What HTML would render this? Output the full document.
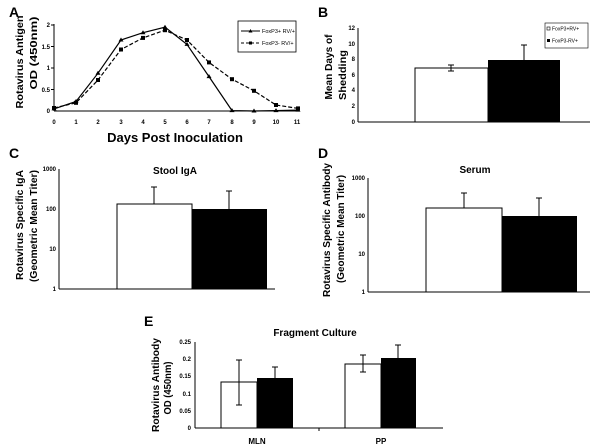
<!DOCTYPE html>
<html><head><meta charset="utf-8"><style>
html,body{margin:0;padding:0;background:#fff}
svg{display:block;font-family:"Liberation Sans",Arial,sans-serif}
.t{font-size:6px;font-weight:bold}
.L{font-size:14px;font-weight:bold}
.yl{font-size:10.5px;font-weight:bold}
</style></head><body>
<svg width="600" height="447" viewBox="0 0 600 447">
<!-- Panel A -->
<text class="L" x="9" y="17">A</text>
<g stroke="#000" stroke-width="1" fill="none">
<line x1="54" y1="24" x2="54" y2="111"/>
<line x1="54" y1="111" x2="299" y2="111"/>
</g>
<g class="t" text-anchor="end">
<text x="50" y="27">2</text><text x="50" y="49">1.5</text><text x="50" y="70">1</text><text x="50" y="92">0.5</text><text x="50" y="113">0</text>
</g>
<g stroke="#000" stroke-width="1">
<line x1="51" y1="25" x2="54" y2="25"/><line x1="51" y1="46.5" x2="54" y2="46.5"/><line x1="51" y1="68" x2="54" y2="68"/><line x1="51" y1="89.5" x2="54" y2="89.5"/>
</g>
<g class="t" text-anchor="middle">
<text x="54" y="124">0</text><text x="76" y="124">1</text><text x="98" y="124">2</text><text x="121" y="124">3</text><text x="143" y="124">4</text><text x="165" y="124">5</text><text x="187" y="124">6</text><text x="209" y="124">7</text><text x="232" y="124">8</text><text x="254" y="124">9</text><text x="276" y="124">10</text><text x="297" y="124">11</text>
</g>
<polyline fill="none" stroke="#000" stroke-width="1.2" points="54,108.9 76,101.5 98,73.2 121,40 143,32.7 165,27.2 187,44.4 209,76.6 232,110.6 254,111 276,110.6 298,110.1"/>
<polyline fill="none" stroke="#000" stroke-width="1.2" stroke-dasharray="4,2" points="54,108 76,102.8 98,80 121,49.5 143,37.9 165,30.2 187,40 209,62.4 232,79.2 254,90.8 276,105 298,108.4"/>
<g fill="#000">
<path d="M54,106.4l2.5,4h-5z M76,99l2.5,4h-5z M98,70.7l2.5,4h-5z M121,37.5l2.5,4h-5z M143,30.2l2.5,4h-5z M165,24.7l2.5,4h-5z M187,41.9l2.5,4h-5z M209,74.1l2.5,4h-5z M232,108.1l2.5,4h-5z M254,108.5l2.5,4h-5z M276,108.1l2.5,4h-5z M298,107.6l2.5,4h-5z"/>
<rect x="52" y="106" width="4" height="4"/><rect x="74" y="100.8" width="4" height="4"/><rect x="96" y="78" width="4" height="4"/><rect x="119" y="47.5" width="4" height="4"/><rect x="141" y="35.9" width="4" height="4"/><rect x="163" y="28.2" width="4" height="4"/><rect x="185" y="38" width="4" height="4"/><rect x="207" y="60.4" width="4" height="4"/><rect x="230" y="77.2" width="4" height="4"/><rect x="252" y="88.8" width="4" height="4"/><rect x="274" y="103" width="4" height="4"/><rect x="296" y="106.4" width="4" height="4"/>
</g>
<rect x="238" y="21" width="58" height="31" fill="#fff" stroke="#000" stroke-width="0.8"/>
<line x1="241" y1="31" x2="260" y2="31" stroke="#000"/><path d="M250.5,29l2,3.5h-4z" fill="#000"/>
<text x="262" y="33" font-size="5.5">FoxP3+ RV/+</text>
<line x1="241" y1="43" x2="260" y2="43" stroke="#000" stroke-dasharray="3,2"/><rect x="249" y="41.5" width="3" height="3" fill="#000"/>
<text x="262" y="45" font-size="5.5">FoxP3- RV/+</text>
<text class="yl" transform="translate(23,62) rotate(-90)" text-anchor="middle" textLength="93" lengthAdjust="spacingAndGlyphs">Rotavirus Antigen</text>
<text class="yl" transform="translate(37,53) rotate(-90)" text-anchor="middle" textLength="73" lengthAdjust="spacingAndGlyphs">OD (450nm)</text>
<text x="175" y="142" text-anchor="middle" font-size="13" font-weight="bold">Days Post Inoculation</text>

<!-- Panel B -->
<text class="L" x="318" y="17">B</text>
<line x1="358" y1="28" x2="358" y2="122" stroke="#000"/>
<line x1="358" y1="122" x2="590" y2="122" stroke="#000"/>
<g class="t" text-anchor="end">
<text x="355" y="30">12</text><text x="355" y="46">10</text><text x="355" y="61">8</text><text x="355" y="77">6</text><text x="355" y="92">4</text><text x="355" y="108">2</text><text x="355" y="124">0</text>
</g>
<rect x="415" y="68" width="73" height="54" fill="#fff" stroke="#000"/>
<rect x="488" y="60" width="72" height="62" fill="#000"/>
<g stroke="#000"><line x1="451" y1="65" x2="451" y2="71"/><line x1="448" y1="65" x2="454" y2="65"/><line x1="448" y1="71" x2="454" y2="71"/>
<line x1="524" y1="45" x2="524" y2="60"/><line x1="521" y1="45" x2="527" y2="45"/></g>
<rect x="545" y="23" width="43" height="25" fill="#fff" stroke="#000" stroke-width="0.6"/>
<rect x="547" y="27" width="3" height="3" fill="#fff" stroke="#000" stroke-width="0.6"/><text x="552" y="30.5" font-size="5">FoxP3+RV+</text>
<rect x="547" y="39" width="3" height="3" fill="#000"/><text x="552" y="42.5" font-size="5">FoxP3-RV+</text>
<text class="yl" transform="translate(332,67) rotate(-90)" text-anchor="middle" textLength="65" lengthAdjust="spacingAndGlyphs">Mean Days of</text>
<text class="yl" transform="translate(346,75) rotate(-90)" text-anchor="middle" textLength="50" lengthAdjust="spacingAndGlyphs">Shedding</text>

<!-- Panel C -->
<text class="L" x="9" y="158">C</text>
<line x1="59" y1="169" x2="59" y2="289" stroke="#000"/>
<line x1="59" y1="289" x2="275" y2="289" stroke="#000"/>
<g class="t" text-anchor="end"><text x="56" y="171">1000</text><text x="56" y="211">100</text><text x="56" y="251">10</text><text x="56" y="291">1</text></g>
<rect x="117" y="204" width="75" height="85" fill="#fff" stroke="#000"/>
<rect x="192" y="209" width="75" height="80" fill="#000"/>
<g stroke="#000"><line x1="154" y1="187" x2="154" y2="204"/><line x1="151" y1="187" x2="157" y2="187"/><line x1="229" y1="191" x2="229" y2="209"/><line x1="226" y1="191" x2="232" y2="191"/></g>
<text x="175" y="174" text-anchor="middle" font-size="10" font-weight="bold">Stool IgA</text>
<text class="yl" transform="translate(23,225) rotate(-90)" text-anchor="middle" textLength="110" lengthAdjust="spacingAndGlyphs">Rotavirus Specific IgA</text>
<text class="yl" transform="translate(37,226) rotate(-90)" text-anchor="middle" textLength="112" lengthAdjust="spacingAndGlyphs">(Geometric Mean Titer)</text>

<!-- Panel D -->
<text class="L" x="318" y="158">D</text>
<line x1="368" y1="178" x2="368" y2="292" stroke="#000"/>
<line x1="368" y1="292" x2="590" y2="292" stroke="#000"/>
<g class="t" text-anchor="end"><text x="365" y="180">1000</text><text x="365" y="218">100</text><text x="365" y="256">10</text><text x="365" y="294">1</text></g>
<rect x="426" y="208" width="76" height="84" fill="#fff" stroke="#000"/>
<rect x="502" y="216" width="75" height="76" fill="#000"/>
<g stroke="#000"><line x1="464" y1="193" x2="464" y2="208"/><line x1="461" y1="193" x2="467" y2="193"/><line x1="539" y1="198" x2="539" y2="216"/><line x1="536" y1="198" x2="542" y2="198"/></g>
<text x="475" y="173" text-anchor="middle" font-size="10" font-weight="bold">Serum</text>
<text class="yl" transform="translate(330,230) rotate(-90)" text-anchor="middle" textLength="134" lengthAdjust="spacingAndGlyphs">Rotavirus Specific Antibody</text>
<text class="yl" transform="translate(344,229) rotate(-90)" text-anchor="middle" textLength="108" lengthAdjust="spacingAndGlyphs">(Geometric Mean Titer)</text>

<!-- Panel E -->
<text class="L" x="144" y="326">E</text>
<line x1="195" y1="342" x2="195" y2="428" stroke="#000"/>
<line x1="195" y1="428" x2="443" y2="428" stroke="#000"/>
<line x1="319" y1="428" x2="319" y2="431" stroke="#000"/>
<g class="t" text-anchor="end"><text x="191" y="344">0.25</text><text x="191" y="361">0.2</text><text x="191" y="378">0.15</text><text x="191" y="396">0.1</text><text x="191" y="413">0.05</text><text x="191" y="430">0</text></g>
<rect x="221" y="382" width="36" height="46" fill="#fff" stroke="#000"/>
<rect x="257" y="378" width="36" height="50" fill="#000"/>
<rect x="345" y="364" width="36" height="64" fill="#fff" stroke="#000"/>
<rect x="381" y="358" width="35" height="70" fill="#000"/>
<g stroke="#000">
<line x1="239" y1="360" x2="239" y2="405"/><line x1="236" y1="360" x2="242" y2="360"/><line x1="236" y1="405" x2="242" y2="405"/>
<line x1="275" y1="367" x2="275" y2="378"/><line x1="272" y1="367" x2="278" y2="367"/>
<line x1="363" y1="355" x2="363" y2="372"/><line x1="360" y1="355" x2="366" y2="355"/><line x1="360" y1="372" x2="366" y2="372"/>
<line x1="398" y1="345" x2="398" y2="358"/><line x1="395" y1="345" x2="401" y2="345"/>
</g>
<text x="315" y="336" text-anchor="middle" font-size="10" font-weight="bold">Fragment Culture</text>
<text x="257" y="444" text-anchor="middle" font-size="8" font-weight="bold">MLN</text>
<text x="381" y="444" text-anchor="middle" font-size="8" font-weight="bold">PP</text>
<text class="yl" transform="translate(159,385) rotate(-90)" text-anchor="middle" font-size="10" textLength="94" lengthAdjust="spacingAndGlyphs">Rotavirus Antibody</text>
<text class="yl" transform="translate(171,388) rotate(-90)" text-anchor="middle" font-size="10" textLength="53" lengthAdjust="spacingAndGlyphs">OD (450nm)</text>
</svg>
</body></html>
